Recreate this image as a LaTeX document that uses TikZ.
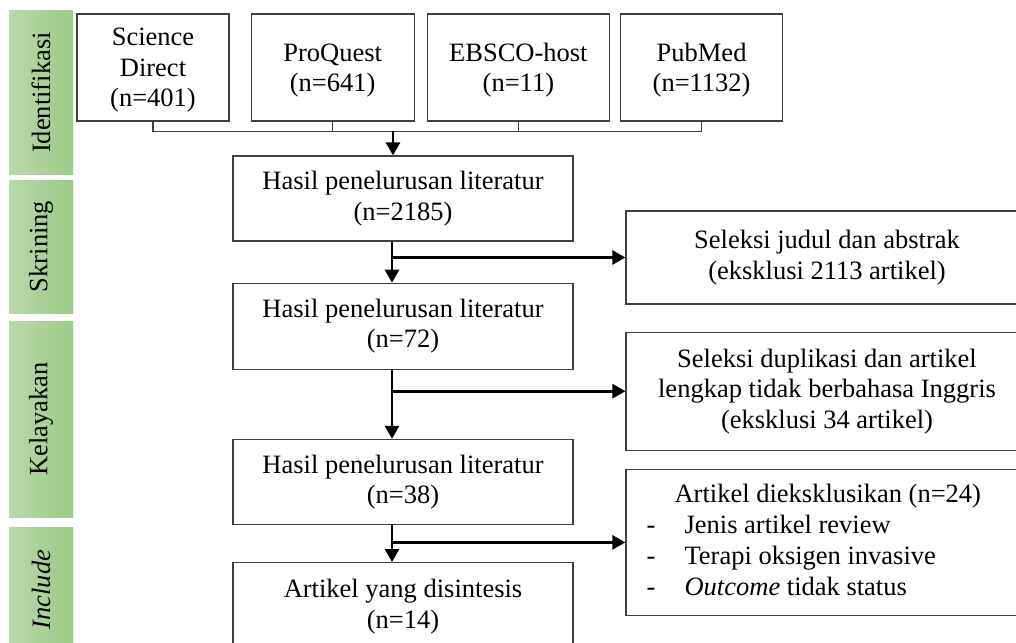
\documentclass[tikz,border=0pt]{standalone}
\usepackage{fontspec}
\setmainfont{Liberation Serif}
\usetikzlibrary{arrows.meta, positioning}

\definecolor{phaseL}{RGB}{185,217,170}
\definecolor{phaseR}{RGB}{156,201,136}
\definecolor{edge}{RGB}{64,64,64}

\begin{document}
\begin{tikzpicture}[
    x=1pt, y=-1pt,
    box/.style={rectangle, draw=edge, line width=1.2pt, fill=white,
                inner sep=0pt, align=center, minimum height=107pt,
                font=\fontsize{26.5}{30.5}\selectfont},
    phase/.style={rectangle, left color=phaseL, right color=phaseR,
                  minimum width=64pt, inner sep=0pt,
                  font=\fontsize{26.5}{30.5}\selectfont},
    link/.style={draw=edge, line width=1.3pt},
    arr/.style={-{Triangle[length=13pt, width=14pt]}, line width=2.7pt}
]
    \useasboundingbox (0,0) rectangle (1016,642);
    \clip (0,0) rectangle (1016,642);

    % Phase bars
    \node[phase, minimum height=163pt] (idf) at (41,92.5) {\rotatebox{90}{Identifikasi}};
    \node[phase, minimum height=133pt] (skr) at (41,246.5) {\rotatebox{90}{Skrining}};
    \node[phase, minimum height=196pt] (kel) at (41,419) {\rotatebox{90}{Kelayakan}};
    \node[phase, minimum height=125pt] (inc) at (41,589.5) {\rotatebox{90}{\itshape Include}};

    % Sources
    \node[box, minimum width=152pt, text depth=0pt] (sd) at (153,67.5) {Science\\Direct\\(n=401)};
    \node[box, minimum width=163pt, text depth=0pt, right=21pt of sd] (pq) {ProQuest\\(n=641)};
    \node[box, minimum width=182pt, text depth=0pt, right=12pt of pq] (eb) {EBSCO-host\\(n=11)};
    \node[box, minimum width=162pt, text depth=0pt, right=10pt of eb] (pm) {PubMed\\(n=1132)};

    % Main flow
    \node[box, minimum width=340pt, minimum height=85pt] (h1) at (403,198.5)
        {Hasil penelurusan literatur\\(n=2185)};
    \node[box, minimum width=340pt, minimum height=86pt, below=41pt of h1] (h2)
        {Hasil penelurusan literatur\\(n=72)};
    \node[box, minimum width=340pt, minimum height=85pt, below=69pt of h2] (h3)
        {Hasil penelurusan literatur\\(n=38)};
    \node[box, minimum width=340pt, minimum height=88pt, below=37pt of h3] (fin)
        {Artikel yang disintesis\\(n=14)};

    % Exclusions
    \node[box, minimum width=402pt, minimum height=93pt] (ex1) at (827,257.5)
        {Seleksi judul dan abstrak\\(eksklusi 2113 artikel)};
    \node[box, minimum width=402pt, minimum height=118pt, below=27pt of ex1] (ex2)
        {Seleksi duplikasi dan artikel\\lengkap tidak berbahasa Inggris\\(eksklusi 34 artikel)};
    \node[box, minimum width=402pt, minimum height=146pt, below=18pt of ex2] (ex3) {};
    \node[anchor=north west, inner sep=0pt, align=left,
          font=\fontsize{26.5}{31}\selectfont] (ex3list)
          at ([xshift=21pt, yshift=-15pt]ex3.north west)
        {\hspace*{28pt}Artikel dieksklusikan (n=24)\\
         \makebox[38pt][l]{-}Jenis artikel review\\
         \makebox[38pt][l]{-}Terapi oksigen invasive\\
         \makebox[38pt][l]{-}\textit{Outcome} tidak status};

    \coordinate (join) at (393,131);
    \coordinate (spine) at (392,0);

    \draw[link] (sd.south) -- ++(0,10) -| (pm.south);
    \draw[link] (pq.south) -- ++(0,10);
    \draw[link] (eb.south) -- ++(0,10);
    \draw[arr] (join) -- (join |- h1.north);

    \draw[arr] (h1.south -| spine) -- (h2.north -| spine);
    \draw[arr] (h2.south -| spine) -- (h3.north -| spine);
    \draw[arr] (h3.south -| spine) -- (fin.north -| spine);
    \draw[arr] (spine |- ex1.west) -- (ex1.west);
    \draw[arr] (spine |- ex2.west) -- (ex2.west);
    \draw[arr] (spine |- ex3.west) -- (ex3.west);
\end{tikzpicture}
\end{document}
